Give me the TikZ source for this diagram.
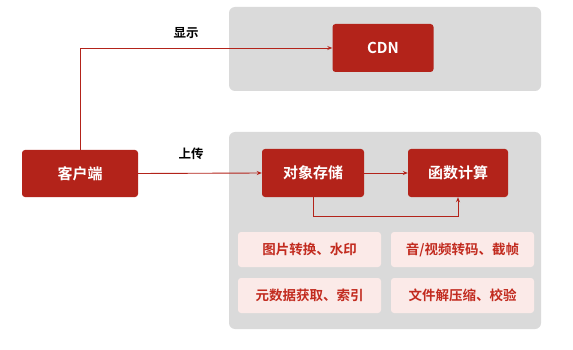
\documentclass[tikz,border=0pt]{standalone}
\usepackage{fontspec}
\setmainfont{Noto Sans CJK SC}[BoldFont={* Bold}]
\newfontfamily\cjkb{Noto Sans CJK SC Bold}
\usetikzlibrary{arrows.meta}
\definecolor{dred}{HTML}{B3231A}
\definecolor{pnk}{HTML}{FBEAE8}
\definecolor{gpan}{HTML}{DADADA}
\definecolor{ptxt}{HTML}{C22B1F}
\tikzset{
  panel/.style={fill=gpan,rounded corners=6pt,draw=none},
  redbox/.style={fill=dred,rounded corners=3pt,text=white,font=\cjkb\fontsize{15}{17}\selectfont,inner sep=0pt},
  pinkbox/.style={fill=pnk,rounded corners=3pt,text=ptxt,font=\cjkb\fontsize{13.5}{15}\selectfont,inner sep=0pt},
  conn/.style={draw=dred,line width=0.9pt,-{Stealth[length=5pt,width=4pt]}},
  lbl/.style={font=\cjkb\fontsize{12.5}{14}\selectfont,text=black}
}
\begin{document}
\begin{tikzpicture}[x=1pt,y=-1pt]
\useasboundingbox (0,0) rectangle (573,350);
\fill[white] (0,0) rectangle (573,350);
\path[panel] (229,7) rectangle (541,91);
\path[panel] (229,132) rectangle (541,329);
\node[redbox,minimum width=101pt,minimum height=48pt] (cdn) at (383,48) {CDN};
\node[redbox,minimum width=116pt,minimum height=47pt] (client) at (80,173.5) {客户端};
\node[redbox,minimum width=102pt,minimum height=48pt] (oss) at (313,173) {对象存储};
\node[redbox,minimum width=100pt,minimum height=48pt] (fc) at (458,173) {函数计算};
\node[pinkbox,minimum width=143pt,minimum height=35pt] (p1) at (309.5,249.5) {图片转换、水印};
\node[pinkbox,minimum width=143pt,minimum height=35pt] (p2) at (462.5,249.5) {音/视频转码、截帧};
\node[pinkbox,minimum width=143pt,minimum height=35pt] (p3) at (309.5,295.5) {元数据获取、索引};
\node[pinkbox,minimum width=143pt,minimum height=35pt] (p4) at (462.5,295.5) {文件解压缩、校验};
\coordinate (up) at (80,48);
\draw[conn] (client.north) -- (up) -- (cdn.west);
\node[lbl] (l1) at (186,33) {显示};
\draw[conn] (client.east) -- (oss.west);
\node[lbl] (l2) at (191,154) {上传};
\draw[conn] (oss.east) -- (fc.west);
\coordinate (lp) at (0,216);
\draw[conn] (oss.south) -- (oss.south |- lp) -- (fc.south |- lp) -- (fc.south);
\end{tikzpicture}
\end{document}
